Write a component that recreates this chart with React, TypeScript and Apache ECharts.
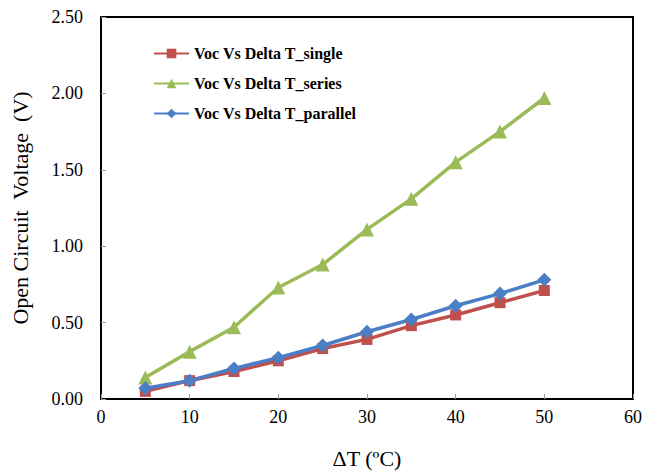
import React, { useEffect, useRef } from "react";
import * as echarts from "echarts";

const deltaT = [5, 10, 15, 20, 25, 30, 35, 40, 45, 50];
const vocSingle = [0.05, 0.12, 0.18, 0.25, 0.33, 0.39, 0.48, 0.55, 0.63, 0.71];
const vocSeries = [0.14, 0.31, 0.47, 0.73, 0.88, 1.11, 1.31, 1.55, 1.75, 1.97];
const vocParallel = [0.07, 0.12, 0.2, 0.27, 0.35, 0.44, 0.52, 0.61, 0.69, 0.78];
const seriesNames = ["Voc Vs Delta T_single", "Voc Vs Delta T_series", "Voc Vs Delta T_parallel"];

const FONT = "'Liberation Serif', 'Times New Roman', serif";

export default function App() {
  const ref = useRef<HTMLDivElement>(null);
  useEffect(() => {
    if (!ref.current) return;
    const chart = echarts.init(ref.current, null, { renderer: "svg" });
    const pair = (ys: number[]) => deltaT.map((x, i) => [x, ys[i]]);
    chart.setOption({
      animation: false,
      backgroundColor: "#fff",
      grid: {
        left: 101,
        right: 10,
        top: 17,
        bottom: 76,
        show: true,
        borderColor: "#000",
        borderWidth: 2,
      },
      legend: {
        orient: "vertical",
        left: 148,
        top: 39,
        itemWidth: 35,
        itemHeight: 12,
        itemGap: 11,
        textStyle: {
          fontFamily: FONT,
          fontSize: 16,
          fontWeight: "bold",
          color: "#000",
          lineHeight: 19,
        },
        data: seriesNames,
      },
      xAxis: {
        type: "value",
        min: 0,
        max: 60,
        interval: 10,
        name: "ΔT (ºC)",
        nameLocation: "middle",
        nameGap: 48,
        nameTextStyle: { fontFamily: FONT, fontSize: 22, color: "#000" },
        axisLine: { show: true, lineStyle: { color: "#000", width: 2 } },
        axisTick: { show: true, inside: true, length: 5, lineStyle: { color: "#999" } },
        axisLabel: { fontFamily: FONT, fontSize: 18, color: "#000", margin: 9 },
        splitLine: { show: false },
      },
      yAxis: {
        type: "value",
        min: 0,
        max: 2.5,
        interval: 0.5,
        name: "Open Circuit  Voltage  (V)",
        nameLocation: "middle",
        nameGap: 70,
        nameTextStyle: { fontFamily: FONT, fontSize: 22, color: "#000" },
        axisLine: { show: true, lineStyle: { color: "#000", width: 2 } },
        axisTick: { show: true, inside: true, length: 5, lineStyle: { color: "#999" } },
        axisLabel: {
          fontFamily: FONT,
          fontSize: 18,
          color: "#000",
          margin: 18,
          formatter: (v: number) => v.toFixed(2),
        },
        splitLine: { show: false },
      },
      series: [
        {
          name: seriesNames[0],
          type: "line",
          data: pair(vocSingle),
          symbol: "rect",
          symbolSize: 11,
          itemStyle: { color: "#C0504D" },
          lineStyle: { color: "#C0504D", width: 3.5 },
        },
        {
          name: seriesNames[1],
          type: "line",
          data: pair(vocSeries),
          symbol: "triangle",
          symbolSize: 14,
          itemStyle: { color: "#9BBB59" },
          lineStyle: { color: "#9BBB59", width: 3.5 },
        },
        {
          name: seriesNames[2],
          type: "line",
          data: pair(vocParallel),
          symbol: "diamond",
          symbolSize: 14,
          itemStyle: { color: "#4A7EC6" },
          lineStyle: { color: "#4A7EC6", width: 3.5 },
        },
      ],
    });
    return () => chart.dispose();
  }, []);
  return <div ref={ref} style={{ width: 645, height: 475, position: "absolute", left: 0, top: 0 }} />;
}
